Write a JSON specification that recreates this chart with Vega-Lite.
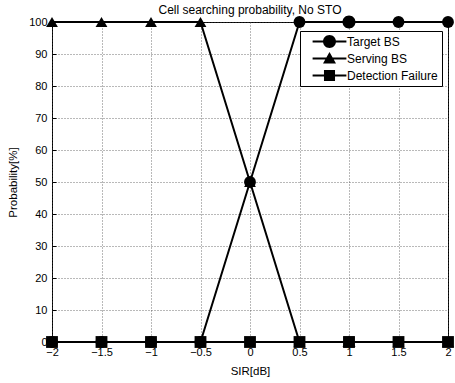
{
  "$schema": "https://vega.github.io/schema/vega-lite/v6.json",
  "width": 396,
  "height": 320,
  "autosize": {"type": "none"},
  "padding": {"left": 52, "top": 22, "right": 7, "bottom": 41},
  "background": "white",
  "title": {"text": "Cell searching probability, No STO", "fontSize": 12, "font": "Liberation Sans", "fontWeight": "normal", "color": "black", "offset": 9, "dy": 10, "anchor": "middle", "frame": "group"},
  "config": {
    "view": {"stroke": "black", "strokeWidth": 1},
    "axis": {"labelFont": "Liberation Sans", "labelFontSize": 11, "labelColor": "black", "titleFont": "Liberation Sans", "titleFontSize": 11.5, "titleFontWeight": "normal", "titleColor": "black", "domain": false, "tickColor": "black", "tickSize": -4, "gridColor": "#444", "gridDash": [1, 2], "gridWidth": 1, "gridOpacity": 0.75}
  },
  "data": {"values": [
    {"series": "Target BS", "x": -2, "y": 0},
    {"series": "Target BS", "x": -1.5, "y": 0},
    {"series": "Target BS", "x": -1, "y": 0},
    {"series": "Target BS", "x": -0.5, "y": 0},
    {"series": "Target BS", "x": 0, "y": 50},
    {"series": "Target BS", "x": 0.5, "y": 100},
    {"series": "Target BS", "x": 1, "y": 100},
    {"series": "Target BS", "x": 1.5, "y": 100},
    {"series": "Target BS", "x": 2, "y": 100},
    {"series": "Serving BS", "x": -2, "y": 100},
    {"series": "Serving BS", "x": -1.5, "y": 100},
    {"series": "Serving BS", "x": -1, "y": 100},
    {"series": "Serving BS", "x": -0.5, "y": 100},
    {"series": "Serving BS", "x": 0, "y": 50},
    {"series": "Serving BS", "x": 0.5, "y": 0},
    {"series": "Serving BS", "x": 1, "y": 0},
    {"series": "Serving BS", "x": 1.5, "y": 0},
    {"series": "Serving BS", "x": 2, "y": 0},
    {"series": "Detection Failure", "x": -2, "y": 0},
    {"series": "Detection Failure", "x": -1.5, "y": 0},
    {"series": "Detection Failure", "x": -1, "y": 0},
    {"series": "Detection Failure", "x": -0.5, "y": 0},
    {"series": "Detection Failure", "x": 0, "y": 0},
    {"series": "Detection Failure", "x": 0.5, "y": 0},
    {"series": "Detection Failure", "x": 1, "y": 0},
    {"series": "Detection Failure", "x": 1.5, "y": 0},
    {"series": "Detection Failure", "x": 2, "y": 0}
  ]},
  "encoding": {
    "x": {"field": "x", "type": "quantitative", "scale": {"domain": [-2, 2], "nice": false, "zero": false},
          "axis": {"title": "SIR[dB]", "format": "~g", "values": [-2, -1.5, -1, -0.5, 0, 0.5, 1, 1.5, 2], "labelPadding": 8, "titlePadding": 8, "labelFlush": false}},
    "y": {"field": "y", "type": "quantitative", "scale": {"domain": [0, 100], "nice": false},
          "axis": {"title": "Probability[%]", "values": [0, 10, 20, 30, 40, 50, 60, 70, 80, 90, 100], "labelPadding": 9, "titlePadding": 10, "labelFlush": false}}
  },
  "layer": [
    {
      "mark": {"type": "line", "color": "black", "strokeWidth": 2, "clip": false},
      "encoding": {"detail": {"field": "series"}}
    },
    {
      "mark": {"type": "point", "filled": true, "color": "black", "opacity": 1, "size": 140, "clip": false},
      "encoding": {
        "shape": {"field": "series", "type": "nominal",
                  "scale": {"domain": ["Target BS", "Serving BS", "Detection Failure"], "range": ["circle", "triangle-up", "square"]},
                  "legend": null}
      }
    },
    {
      "transform": [{"filter": "datum.x == 1"}],
      "mark": {"type": "point", "filled": true, "color": "black", "opacity": 1, "size": 169, "strokeWidth": 0, "clip": false},
      "encoding": {
        "shape": {"field": "series", "type": "nominal",
                  "scale": {"domain": ["Target BS", "Serving BS", "Detection Failure"],
                            "range": [
                              "M-2.6,-0.15 L2.6,-0.15 L2.6,0.15 L-2.6,0.15 Z M1,0 A1,1 0 1,1 -1,0 A1,1 0 1,1 1,0 Z",
                              "M-2.6,-0.15 L2.6,-0.15 L2.6,0.15 L-2.6,0.15 Z M0,-1 L1,0.75 L-1,0.75 Z",
                              "M-2.6,-0.15 L2.6,-0.15 L2.6,0.15 L-2.6,0.15 Z M-0.85,-0.85 L0.85,-0.85 L0.85,0.85 L-0.85,0.85 Z"
                            ]},
                  "legend": {"title": null, "orient": "none", "legendX": 248, "legendY": 9, "symbolSize": 169, "symbolOffset": 19, "labelOffset": 11,
                             "symbolFillColor": "black", "symbolStrokeWidth": 0, "symbolOpacity": 1,
                             "labelFont": "Liberation Sans", "labelFontSize": 12, "labelColor": "black",
                             "strokeColor": "black", "fillColor": "white", "padding": 4, "rowPadding": 4, "labelLimit": 200}}
      }
    }
  ],
  "resolve": {"scale": {"shape": "independent"}}
}
